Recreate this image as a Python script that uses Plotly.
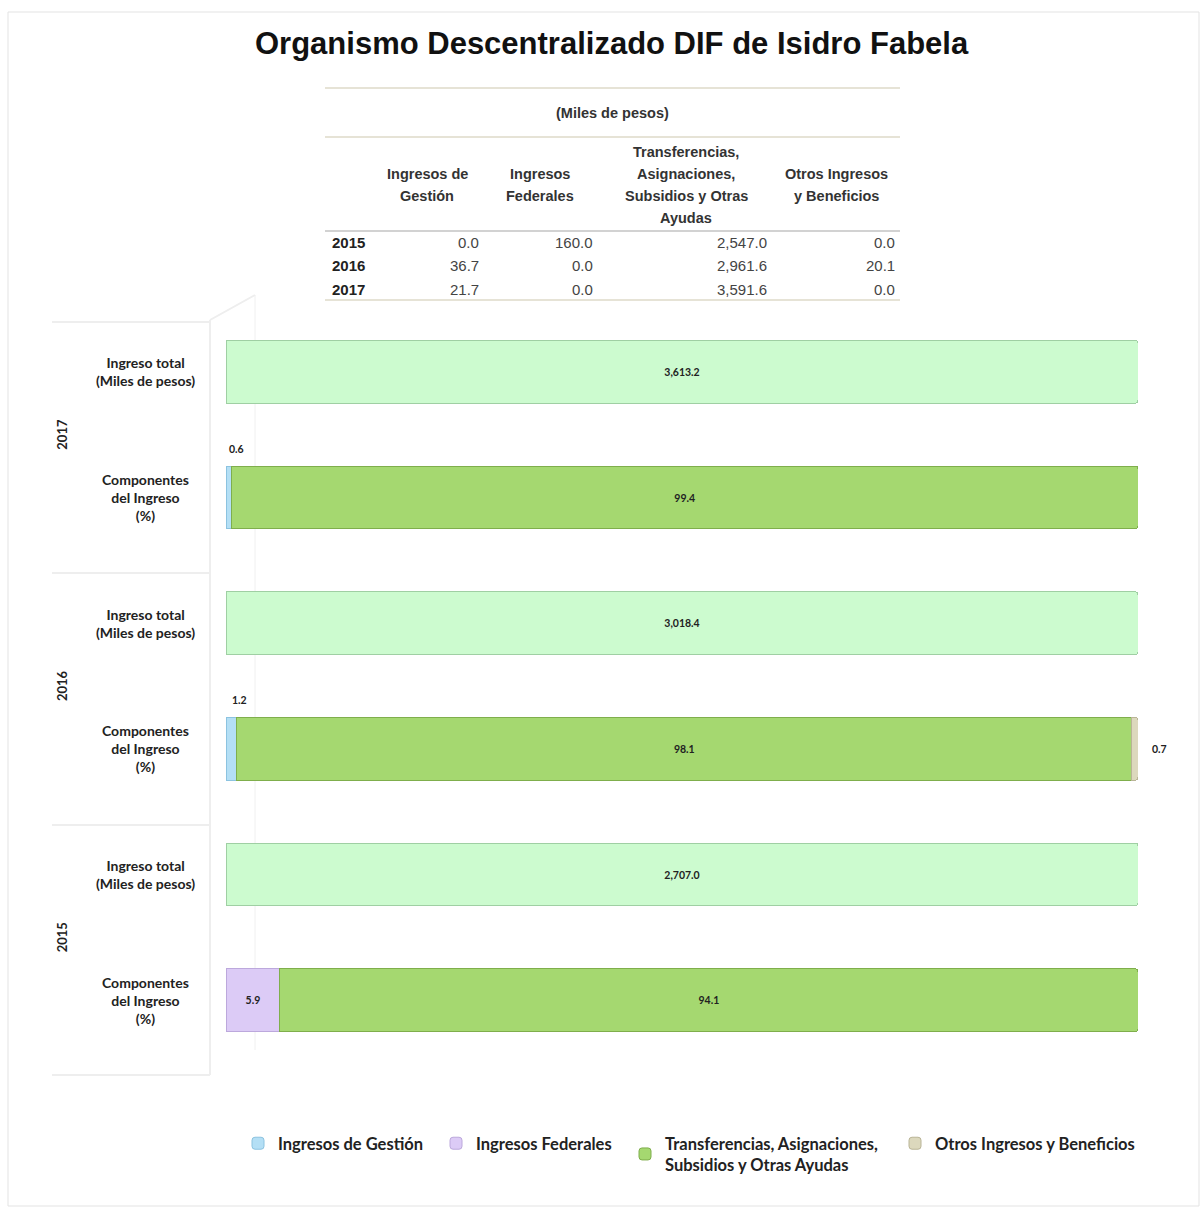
import plotly.graph_objects as go

# ---- data (miles de pesos) ----
years = ["2015", "2016", "2017"]
gestion = [0.0, 36.7, 21.7]
federales = [160.0, 0.0, 0.0]
transferencias = [2547.0, 2961.6, 3591.6]
otros = [0.0, 20.1, 0.0]
totales = [2707.0, 3018.4, 3613.2]

# ---- componentes del ingreso (%) ----
pct_gestion = [0.0, 1.2, 0.6]
pct_federales = [5.9, 0.0, 0.0]
pct_transf = [94.1, 98.1, 99.4]
pct_otros = [0.0, 0.7, 0.0]

series_names = ["Ingresos de Gestión", "Ingresos Federales",
                "Transferencias, Asignaciones,<br>Subsidios y Otras Ayudas",
                "Otros Ingresos y Beneficios"]
series_pct = [pct_gestion, pct_federales, pct_transf, pct_otros]
series_colors = ["#b4dff5", "#dccbf6", "#a5d870", "#dcd8bd"]
series_lines = ["#8cc3e0", "#bca8dc", "#7fae4c", "#b9b496"]

row_labels = ["Componentes<br>del Ingreso<br>(%)", "Ingreso total<br>(Miles de pesos)"]
table_headers = [["Ingresos de", "Gestión"], ["Ingresos", "Federales"],
                 ["Transferencias,", "Asignaciones,", "Subsidios y Otras", "Ayudas"],
                 ["Otros Ingresos", "y Beneficios"]]
table_cols = [gestion, federales, transferencias, otros]

W, H = 1200, 1213
def px_y(p):
    return (H - p) / H

cats_comp = [y + "-comp" for y in years]
cats_total = [y + "-total" for y in years]
cat_order = []
for y in years:
    cat_order += [y + "-comp", y + "-total"]

fig = go.Figure()

# total bars (100% of their own row)
total_width = [g + f + t + o for g, f, t, o in zip(pct_gestion, pct_federales, pct_transf, pct_otros)]
fig.add_trace(go.Bar(
    x=total_width, y=cats_total, orientation="h", showlegend=False,
    marker=dict(color="#ccfbcf", line=dict(color="#9fcfa3", width=1), cornerradius=3),
    text=[f"{t:,.1f}" for t in totales], textposition="inside", insidetextanchor="middle",
    textfont=dict(family="Lato", size=10.5, color="#222222", weight="bold"), hoverinfo="skip",
))

legend_x = [238, 436, 625, 895]
for k, (name, vals, col, lc) in enumerate(zip(series_names, series_pct, series_colors, series_lines)):
    fig.add_trace(go.Bar(
        x=vals, y=cats_comp, orientation="h", name=name,
        legend="legend" if k == 0 else f"legend{k + 1}",
        marker=dict(color=col, line=dict(color=lc, width=1), cornerradius=3),
        text=[f"{v:.1f}" if v >= 5 else "" for v in vals],
        textposition="inside", insidetextanchor="middle",
        textfont=dict(family="Lato", size=10.5, color="#222222", weight="bold"),
    ))

fig.update_layout(barmode="stack", bargap=0.5)

annotations = []
# small segment labels
for i, y in enumerate(years):
    cum = 0
    for k, vals in enumerate(series_pct):
        v = vals[i]
        if 0 < v < 5:
            if k == len(series_pct) - 1:
                annotations.append(dict(x=cum + v, y=y + "-comp", xref="x", yref="y",
                                        text=f"{v:.1f}", showarrow=False, xanchor="left",
                                        xshift=12, font=dict(family="Lato", size=10.5, color="#222", weight="bold")))
            else:
                annotations.append(dict(x=cum + v / 2, y=y + "-comp", xref="x", yref="y",
                                        text=f"{v:.1f}", showarrow=False, yanchor="bottom",
                                        yshift=41, xshift=8, font=dict(family="Lato", size=10.5, color="#222", weight="bold")))
        cum += v

# row labels and year labels
for i, y in enumerate(years):
    for j, lab in enumerate(row_labels):
        annotations.append(dict(x=145 / W, xref="paper", y=2 * i + j, yref="y", text=lab,
                                showarrow=False, align="center", xanchor="center", yanchor="middle",
                                font=dict(family="Lato", size=14, color="#222", weight="bold")))
    annotations.append(dict(x=62 / W, xref="paper", y=2 * i + 0.5, yref="y", text=y,
                            showarrow=False, textangle=-90, xanchor="center", yanchor="middle",
                            font=dict(family="Lato", size=13, color="#222", weight="bold")))

annotations.append(dict(x=612 / W, y=px_y(44), xref="paper", yref="paper", xanchor="center", yanchor="middle",
                        text="Organismo Descentralizado DIF de Isidro Fabela", showarrow=False,
                        font=dict(family="Liberation Sans", size=31, color="#111", weight="bold")))
annotations.append(dict(x=612 / W, y=px_y(113), xref="paper", yref="paper", xanchor="center", yanchor="middle",
                        text="(Miles de pesos)", showarrow=False,
                        font=dict(family="Liberation Sans", size=14.5, color="#333", weight="bold")))

# ---- table (drawn as text) ----
header_cx = [427, 540, 686, 836]
value_rx = [481, 595, 769, 897]
for cx, lines in zip(header_cx, table_headers):
    n = len(lines)
    for li, txt in enumerate(lines):
        py = 185 + (li - (n - 1) / 2) * 22
        annotations.append(dict(x=cx / W, y=px_y(py), xref="paper", yref="paper", text=txt,
                                showarrow=False, xanchor="center", yanchor="middle",
                                font=dict(family="Liberation Sans", size=14.5, color="#333", weight="bold")))
for r, y in enumerate(years):
    py = 243 + r * 23
    annotations.append(dict(x=330 / W, y=px_y(py), xref="paper", yref="paper", text=y,
                            showarrow=False, xanchor="left", yanchor="middle",
                            font=dict(family="Liberation Sans", size=15, color="#222", weight="bold")))
    for rx, col in zip(value_rx, table_cols):
        annotations.append(dict(x=rx / W, y=px_y(py), xref="paper", yref="paper", text=f"{col[r]:,.1f}",
                                showarrow=False, xanchor="right", yanchor="middle",
                                font=dict(family="Liberation Sans", size=15, color="#444")))

shapes = []
for py, c, w in [(88, "#e6e3d6", 2), (137, "#e6e3d6", 2), (231, "#d2d2d2", 2), (300, "#e6e3d6", 2)]:
    shapes.append(dict(type="line", xref="paper", yref="paper", x0=325 / W, x1=900 / W,
                       y0=px_y(py), y1=px_y(py), line=dict(color=c, width=w)))
# left frame / separators
shapes.append(dict(type="line", xref="paper", yref="paper", x0=210 / W, x1=210 / W,
                   y0=px_y(1075), y1=px_y(320), line=dict(color="#eeeeee", width=2)))
shapes.append(dict(type="line", xref="paper", yref="paper", x0=210 / W, x1=255 / W,
                   y0=px_y(320), y1=px_y(295), line=dict(color="#eeeeee", width=2)))
shapes.append(dict(type="line", xref="paper", yref="paper", x0=255 / W, x1=255 / W, layer="below",
                   y0=px_y(1050), y1=px_y(295), line=dict(color="#f0f0f0", width=1)))
for py in [322, 573, 825, 1075]:
    shapes.append(dict(type="line", xref="paper", yref="paper", x0=52 / W, x1=210 / W,
                       y0=px_y(py), y1=px_y(py), line=dict(color="#eeeeee", width=2)))
shapes.append(dict(type="rect", xref="paper", yref="paper", x0=8 / W, x1=1199 / W,
                   y0=px_y(1206), y1=px_y(12), line=dict(color="#e3e3e3", width=1)))

legend_style = dict(orientation="h", xanchor="left", yanchor="top", y=px_y(1126),
                    bgcolor="rgba(0,0,0,0)", itemwidth=30,
                    font=dict(family="Lato", size=16.5, color="#222", weight="bold"))
legends = {}
for k, lx in enumerate(legend_x):
    key = "legend" if k == 0 else f"legend{k + 1}"
    legends[key] = dict(legend_style, x=lx / W)

fig.update_layout(
    width=W, height=H, margin=dict(l=0, r=0, t=0, b=0),
    paper_bgcolor="white", plot_bgcolor="white",
    xaxis=dict(domain=[226 / W, 1138 / W], range=[0, 100], visible=False),
    yaxis=dict(domain=[px_y(1063), px_y(309)], type="category", categoryorder="array",
               categoryarray=cat_order, showticklabels=False, showgrid=False, zeroline=False),
    annotations=annotations, shapes=shapes,
    font=dict(family="Lato"),
    **legends,
)

fig.write_html("out.html", post_script="document.body.style.margin='0';",
               config={"displayModeBar": False})
